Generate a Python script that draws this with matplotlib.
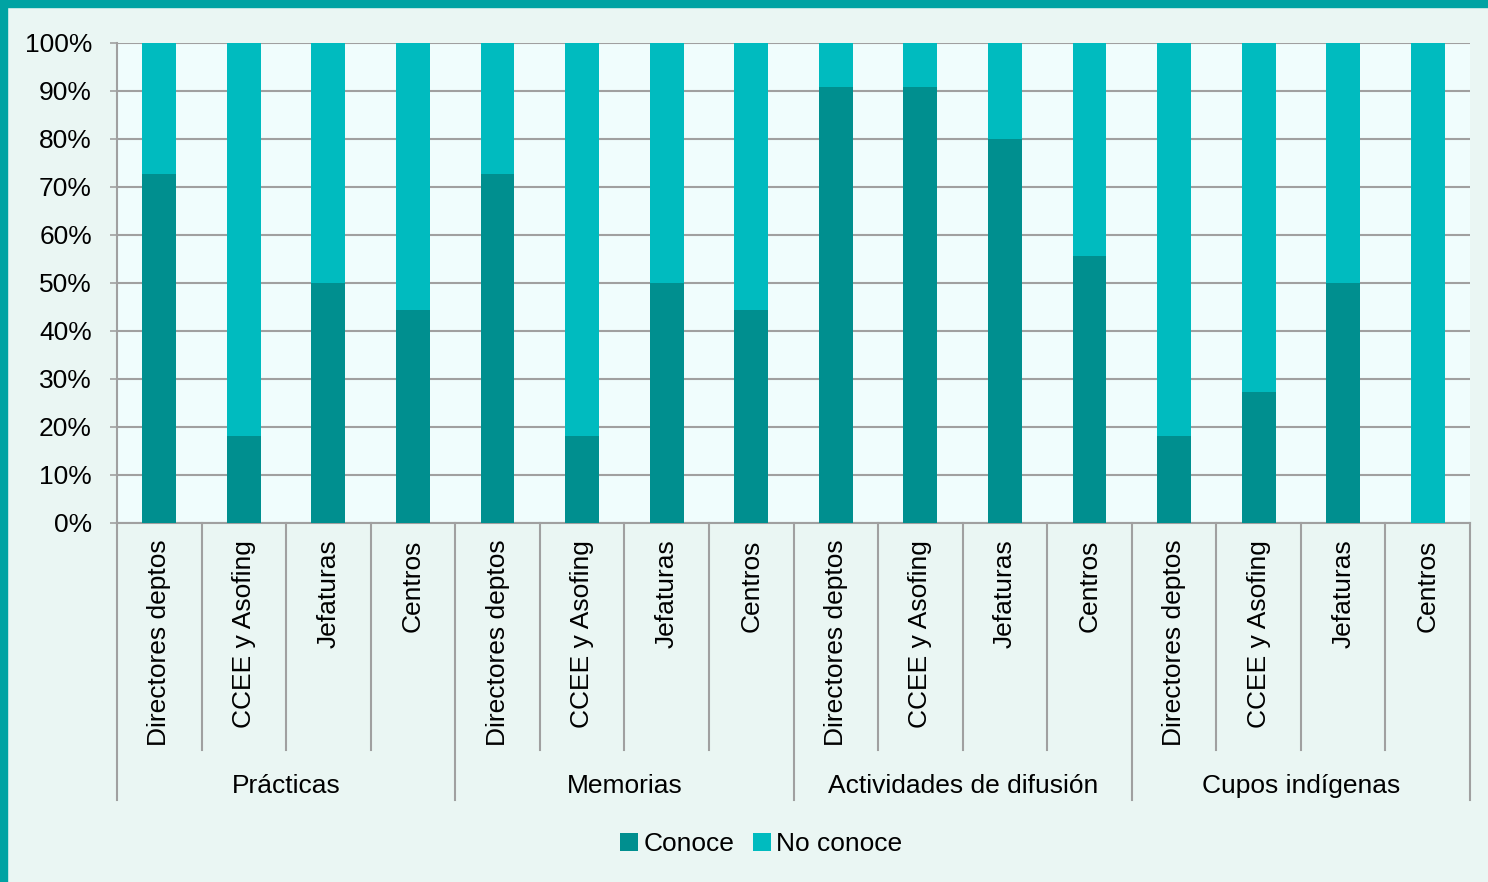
import numpy as np
import matplotlib.pyplot as plt
from matplotlib.patches import Rectangle
from matplotlib.lines import Line2D

plt.rcParams['font.family'] = ['Liberation Sans', 'DejaVu Sans']

grupos = ['Prácticas', 'Memorias', 'Actividades de difusión', 'Cupos indígenas']
actores = ['Directores deptos', 'CCEE y Asofing', 'Jefaturas', 'Centros']

# porcentaje que conoce, por grupo y actor
conoce = [72.7, 18.2, 50.0, 44.4,
          72.7, 18.2, 50.0, 44.4,
          90.9, 90.9, 80.0, 55.6,
          18.2, 27.3, 50.0, 0.0]
no_conoce = [100 - v for v in conoce]

c_oscuro = '#008F8F'
c_claro = '#00BBBF'
gris = '#A0A0A0'

fig = plt.figure(figsize=(14.88, 8.82), dpi=100)
fig.patch.set_facecolor('#EAF6F3')
# borde teal arriba e izquierda
fig.add_artist(Rectangle((0, 1 - 7 / 882), 1, 7 / 882, transform=fig.transFigure, color='#00A3A3', zorder=0))
fig.add_artist(Rectangle((0, 0), 7 / 1488, 1, transform=fig.transFigure, color='#00A3A3', zorder=0))

ax = fig.add_axes([117 / 1488, (882 - 523) / 882, (1470 - 117) / 1488, 480 / 882])
ax.set_facecolor('#F0FDFD')

x = np.arange(len(conoce))
ax.bar(x, conoce, width=0.4, color=c_oscuro, label='Conoce', zorder=3)
ax.bar(x, no_conoce, width=0.4, bottom=conoce, color=c_claro, label='No conoce', zorder=3)

ax.set_xlim(-0.5, len(conoce) - 0.5)
ax.set_ylim(0, 100)
ax.set_yticks(np.arange(0, 101, 10))
ax.set_yticklabels([f'{v}%' for v in range(0, 101, 10)], fontsize=19)
ax.yaxis.grid(True, color=gris, linewidth=1.5)
ax.set_axisbelow(True)
ax.tick_params(axis='y', length=5, width=1.2, color=gris, pad=13)

for s in ['top', 'right']:
    ax.spines[s].set_visible(False)
for s in ['left', 'bottom']:
    ax.spines[s].set_color(gris)
    ax.spines[s].set_linewidth(1.5)

ax.set_xticks(x)
ax.set_xticklabels(actores * len(grupos), rotation=90, fontsize=19)
ax.tick_params(axis='x', length=0, pad=12)

# separadores bajo el eje
tr = ax.get_xaxis_transform()
for i in range(len(conoce) + 1):
    abajo = -0.577 if i % 4 == 0 else -0.473
    ax.add_line(Line2D([i - 0.5, i - 0.5], [0, abajo], transform=tr, color=gris,
                       linewidth=1.5, clip_on=False))
for g, nombre in enumerate(grupos):
    ax.text(g * 4 + 1.5, -0.548, nombre, transform=tr, ha='center', va='center', fontsize=19)

fig.legend(loc='center', bbox_to_anchor=(761 / 1488, 1 - 844 / 882), ncol=2, frameon=False,
           fontsize=19, handlelength=0.7, handleheight=0.7, handletextpad=0.2, columnspacing=0.7)

fig.savefig('out.png', dpi=100, facecolor=fig.get_facecolor())
